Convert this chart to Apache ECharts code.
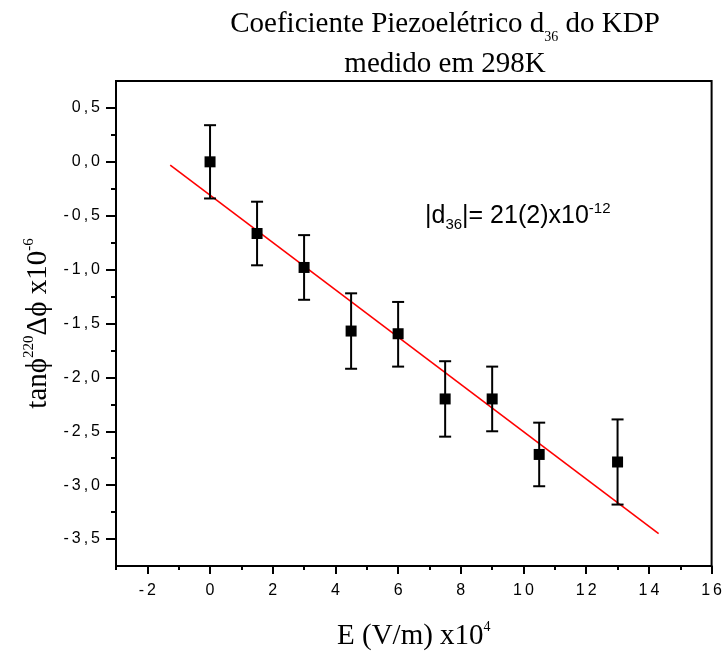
<!DOCTYPE html>
<html>
<head>
<meta charset="utf-8">
<script src="https://cdn.jsdelivr.net/npm/echarts@6/dist/echarts.min.js"></script>
<style>html,body{margin:0;padding:0;background:#fff}#c{width:725px;height:657px}</style>
</head>
<body>
<div id="c"></div>
<script>
// Data
var fieldE = [0, 1.5, 3, 4.5, 6, 7.5, 9, 10.5, 13];
var phase = [0.00, -0.665, -0.98, -1.57, -1.595, -2.20, -2.20, -2.715, -2.785];
var errLow = [-0.34, -0.96, -1.28, -1.92, -1.90, -2.55, -2.50, -3.01, -3.18];
var errHigh = [0.34, -0.37, -0.68, -1.22, -1.30, -1.85, -1.90, -2.42, -2.39];
var fitX = [-1.27, 14.31];
var fitY = [-0.03, -3.45];
var xMajorTicks = [-2, 0, 2, 4, 6, 8, 10, 12, 14, 16];
var xMinorTicks = [-3, -1, 1, 3, 5, 7, 9, 11, 13, 15];
var yMajorTicks = [-3.5, -3.0, -2.5, -2.0, -1.5, -1.0, -0.5, 0.0, 0.5];
var yMinorTicks = [-3.25, -2.75, -2.25, -1.75, -1.25, -0.75, -0.25, 0.25];

var serif = '"Liberation Serif", "Times New Roman", serif';
var sans = '"Liberation Sans", Arial, sans-serif';

var pts = fieldE.map(function (x, i) { return [x, phase[i]]; });
var bars = fieldE.map(function (x, i) { return [x, errLow[i], errHigh[i]]; });
var fit = fitX.map(function (x, i) { return [x, fitY[i]]; });

var chart = echarts.init(document.getElementById('c'));
var X_MIN = -3, X_MAX = 16, Y_MIN = -3.75, Y_MAX = 0.75;

// spaced-out tick label (each character as its own rich segment)
function spaced(s) {
  var ch = s.split('');
  return ch.map(function (c, i) { return (i < ch.length - 1 ? '{s|' : '{e|') + c + '}'; }).join('');
}
var tickRich = {
  s: { fontFamily: sans, fontSize: 16, color: '#000', padding: [0, 3, 0, 0] },
  e: { fontFamily: sans, fontSize: 16, color: '#000' }
};
function yLab(v) { return spaced(v.toFixed(1).replace('.', ',')); }
function xLab(v) { return spaced(String(Math.round(v))); }

chart.setOption({
  animation: false,
  backgroundColor: '#fff',
  title: {
    text: 'Coeficiente Piezoelétrico d{sub|36} do KDP\nmedido em 298K',
    left: 440, top: -1, textAlign: 'center',
    textStyle: {
      fontFamily: serif, fontSize: 29, fontWeight: 'normal', color: '#000', lineHeight: 40,
      rich: { sub: { fontFamily: serif, fontSize: 14, verticalAlign: 'bottom', lineHeight: 40, padding: [24, 0, 0, 0] } }
    }
  },
  grid: { left: 116, top: 81, width: 597, height: 485, show: true, borderColor: '#000', borderWidth: 2, containLabel: false },
  xAxis: [{
    type: 'value', min: X_MIN, max: X_MAX,
    axisLine: { show: true, onZero: false, lineStyle: { color: '#000', width: 2 } },
    axisTick: { show: true, customValues: xMajorTicks, length: 8, lineStyle: { color: '#000', width: 2 } },
    axisLabel: { customValues: xMajorTicks, color: '#000', fontFamily: sans, fontSize: 16, margin: 17, formatter: xLab, rich: tickRich },
    splitLine: { show: false },
    name: 'E (V/m) x10{sup|4}', nameLocation: 'middle', nameGap: 54,
    nameTextStyle: { fontFamily: serif, fontSize: 29, color: '#000',
      rich: { sup: { fontFamily: serif, fontSize: 14, verticalAlign: 'top', padding: [0, 0, 18, 0] } } }
  }, {
    type: 'value', min: X_MIN, max: X_MAX, position: 'bottom', gridIndex: 0,
    axisLine: { show: false, onZero: false },
    axisTick: { show: true, customValues: xMinorTicks, length: 4, lineStyle: { color: '#000', width: 2 } },
    axisLabel: { show: false }, splitLine: { show: false }
  }],
  yAxis: [{
    type: 'value', min: Y_MIN, max: Y_MAX,
    axisLine: { show: true, onZero: false, lineStyle: { color: '#000', width: 2 } },
    axisTick: { show: true, customValues: yMajorTicks, length: 10, lineStyle: { color: '#000', width: 2 } },
    axisLabel: { customValues: yMajorTicks, color: '#000', fontFamily: sans, fontSize: 16, margin: 16, formatter: yLab, rich: tickRich },
    splitLine: { show: false },
    name: 'tanϕ{sup|220}Δϕ x10{sup|-6}', nameLocation: 'middle', nameGap: 58, nameRotate: 90,
    nameTextStyle: { fontFamily: serif, fontSize: 29, color: '#000',
      rich: { sup: { fontFamily: serif, fontSize: 15, verticalAlign: 'top', padding: [0, 0, 18, 0] } } }
  }, {
    type: 'value', min: Y_MIN, max: Y_MAX, position: 'left', gridIndex: 0,
    axisLine: { show: false, onZero: false },
    axisTick: { show: true, customValues: yMinorTicks, length: 5, lineStyle: { color: '#000', width: 2 } },
    axisLabel: { show: false }, splitLine: { show: false }
  }],
  graphic: [{
    type: 'text', left: 425, top: 201,
    style: {
      text: '|d{sub|36}|= 21(2)x10{sup|-12}',
      fontFamily: sans, fontSize: 25, fill: '#000',
      rich: {
        sub: { fontFamily: sans, fontSize: 15, verticalAlign: 'bottom', padding: [16, 0, 0, 0] },
        sup: { fontFamily: sans, fontSize: 15, verticalAlign: 'top', padding: [0, 0, 16, 0] }
      }
    }
  }],
  series: [{
    type: 'line', data: fit, showSymbol: false, symbol: 'none',
    lineStyle: { color: '#ff0000', width: 1.6 }, z: 2
  }, {
    type: 'custom', data: bars, z: 3,
    renderItem: function (params, api) {
      var x = api.value(0);
      var lo = api.coord([x, api.value(1)]);
      var hi = api.coord([x, api.value(2)]);
      var w = 6;
      var st = { stroke: '#000', lineWidth: 2 };
      return { type: 'group', children: [
        { type: 'line', shape: { x1: lo[0], y1: lo[1], x2: hi[0], y2: hi[1] }, style: st },
        { type: 'line', shape: { x1: hi[0] - w, y1: hi[1], x2: hi[0] + w, y2: hi[1] }, style: st },
        { type: 'line', shape: { x1: lo[0] - w, y1: lo[1], x2: lo[0] + w, y2: lo[1] }, style: st }
      ] };
    }
  }, {
    type: 'scatter', data: pts, symbol: 'rect', symbolSize: 11,
    itemStyle: { color: '#000', opacity: 1 }, z: 4
  }]
});
</script>
</body>
</html>
